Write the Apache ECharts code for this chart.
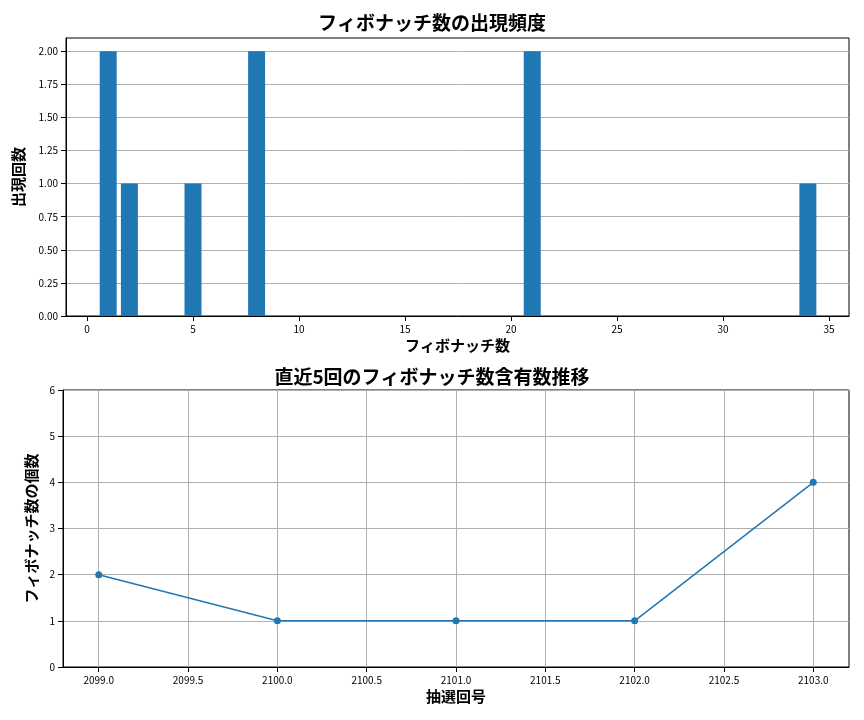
<!DOCTYPE html>
<html><head><meta charset="utf-8">
<script src="https://cdn.jsdelivr.net/npm/echarts@6/dist/echarts.min.js"></script>
<style>body{margin:0}#c{width:864px;height:720px}</style></head>
<body><div id="c"></div>
<script>
const fibNumbers=[1,2,5,8,21,34];
const fibCounts=[2,1,1,2,2,1];
const draws=[2099,2100,2101,2102,2103];
const drawCounts=[2,1,1,1,4];
const topXTicks=[0,5,10,15,20,25,30,35];
const topYTicks=[0,0.25,0.5,0.75,1,1.25,1.5,1.75,2];
const botXTicks=[2099,2099.5,2100,2100.5,2101,2101.5,2102,2102.5,2103];
const F='"Noto Sans CJK JP","Noto Sans",sans-serif';
const c=echarts.init(document.getElementById('c'));
const lbl={fontSize:10,color:'#000',fontFamily:F};
const axl={onZero:false,lineStyle:{color:'#000'}};
const nm={fontSize:15,fontFamily:F,color:'#000',fontWeight:'bold'};
c.setOption({
animation:false,
title:[{text:'フィボナッチ数の出現頻度',left:'center',top:8,textStyle:{fontSize:19,fontWeight:'bold',fontFamily:F,color:'#000'}},
{text:'直近5回のフィボナッチ数含有数推移',left:'center',top:362,textStyle:{fontSize:19,fontWeight:'bold',fontFamily:F,color:'#000'}}],
grid:[{left:66,right:15,top:38,height:278,show:true,borderColor:'#000',borderWidth:1},{left:63,right:15,top:390,height:277,show:true,borderColor:'#000',borderWidth:1}],
xAxis:[{gridIndex:0,type:'value',min:-0.99,max:35.94,name:'フィボナッチ数',nameLocation:'middle',nameGap:22,nameTextStyle:nm,
axisLine:axl,axisTick:{show:true,customValues:topXTicks,lineStyle:{color:'#000'}},axisLabel:Object.assign({customValues:topXTicks},lbl),splitLine:{show:false}},
{gridIndex:1,type:'value',min:2098.8,max:2103.2,name:'抽選回号',nameLocation:'middle',nameGap:22,nameTextStyle:nm,
axisLine:axl,axisTick:{show:true,customValues:botXTicks,lineStyle:{color:'#000'}},axisLabel:Object.assign({customValues:botXTicks,formatter:v=>v.toFixed(1)},lbl),splitLine:{show:true,customValues:botXTicks,lineStyle:{color:'#b0b0b0'}}}],
yAxis:[{gridIndex:0,type:'value',min:0,max:2.1,name:'出現回数',nameLocation:'middle',nameGap:40,nameTextStyle:nm,
axisLine:Object.assign({show:true},axl),axisTick:{show:true,customValues:topYTicks,lineStyle:{color:'#000'}},axisLabel:Object.assign({customValues:topYTicks,formatter:v=>v.toFixed(2)},lbl),splitLine:{show:true,customValues:topYTicks,lineStyle:{color:'#b0b0b0'}}},
{gridIndex:1,type:'value',min:0,max:6,interval:1,name:'フィボナッチ数の個数',nameLocation:'middle',nameGap:22,nameTextStyle:nm,
axisLine:Object.assign({show:true},axl),axisTick:{show:true,lineStyle:{color:'#000'}},axisLabel:lbl,splitLine:{show:true,lineStyle:{color:'#b0b0b0'}}}],
series:[{type:'custom',xAxisIndex:0,yAxisIndex:0,data:fibNumbers.map((x,i)=>[x,fibCounts[i]]),
renderItem:(p,api)=>{const a=api.coord([api.value(0)-0.4,api.value(1)]);const b=api.coord([api.value(0)+0.4,0]);
return {type:'rect',shape:{x:a[0],y:a[1],width:b[0]-a[0],height:b[1]-a[1]},style:{fill:'#1f77b4'}};}},
{type:'line',xAxisIndex:1,yAxisIndex:1,data:draws.map((x,i)=>[x,drawCounts[i]]),symbol:'circle',symbolSize:7,
lineStyle:{color:'#1f77b4',width:1.5},itemStyle:{color:'#1f77b4'}}]
});
</script></body></html>
